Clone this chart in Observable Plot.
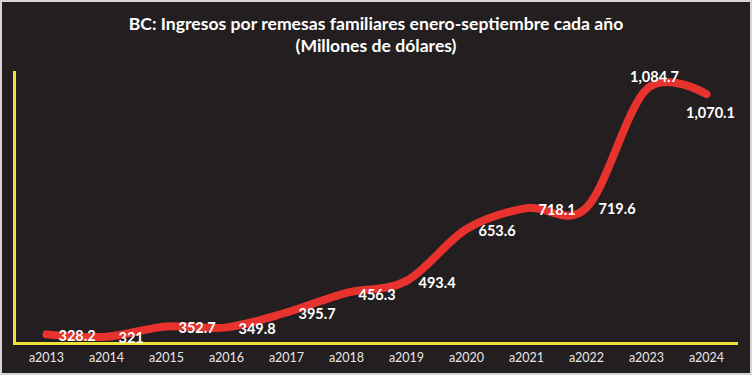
<!DOCTYPE html>
<html>
<head>
<meta charset="utf-8">
<script src="https://cdn.jsdelivr.net/npm/d3@7"></script>
<script src="https://cdn.jsdelivr.net/npm/@observablehq/plot@0.6"></script>
<style>
  html, body { margin: 0; padding: 0; background: #231f20; }
  #wrap { position: relative; width: 752px; height: 375px; background: #231f20; overflow: hidden; }
  #frame { position: absolute; left: 0; top: 0; width: 752px; height: 375px; box-sizing: border-box; border: 2px solid #d4d4d4; pointer-events: none; }
  #title { position: absolute; left: 0; top: 13px; width: 752px; text-align: center; color: #ffffff; font-family: Lato, "Open Sans", sans-serif; font-weight: 700; font-size: 17.6px; line-height: 22px; }
  #chart { position: absolute; left: 0; top: 0; }
</style>
</head>
<body>
<div id="wrap">
  <div id="chart"></div>
  <div id="title">BC: Ingresos por remesas familiares enero-septiembre cada año<br>(Millones de dólares)</div>
  <div id="frame"></div>
</div>
<script>
const years = ["a2013","a2014","a2015","a2016","a2017","a2018","a2019","a2020","a2021","a2022","a2023","a2024"];
const values = [328.2, 321, 352.7, 349.8, 395.7, 456.3, 493.4, 653.6, 718.1, 719.6, 1084.7, 1070.1];
const valueLabels = ["328.2","321","352.7","349.8","395.7","456.3","493.4","653.6","718.1","719.6","1,084.7","1,070.1"];

const data = years.map((y, i) => ({year: y, value: values[i], label: valueLabels[i], i}));
const n = data.length;
const rightLabels = data.filter(d => d.i < n - 2);
const peakLabel = data.filter(d => d.i === n - 2);
const endLabel = data.filter(d => d.i === n - 1);

const red = "#e8322d";
const yellow = "#efe03a";
const font = "Lato, 'Open Sans', sans-serif";

const chart = Plot.plot({
  width: 752,
  height: 375,
  marginTop: 72,
  marginBottom: 32,
  marginLeft: 14,
  marginRight: 14,
  style: { background: "transparent", color: "#ffffff", fontFamily: font },
  x: { type: "band", domain: years, padding: 0, label: null },
  y: { domain: [300, 1137], axis: null },
  marks: [
    Plot.axisX({ tickSize: 0, tickPadding: 10, fontSize: 12.5, fill: "#e6e6e6", label: null }),
    Plot.line(data, {
      x: "year", y: "value", curve: "cardinal",
      stroke: red, strokeWidth: 8, strokeLinecap: "round", strokeLinejoin: "round"
    }),
    Plot.ruleY([300], { stroke: yellow, strokeWidth: 3 }),
    Plot.frame({ anchor: "left", stroke: yellow, strokeWidth: 3 }),
    Plot.text(rightLabels, {
      x: "year", y: "value", text: "label", textAnchor: "start", dx: 12, dy: 2,
      fill: "#ffffff", fontSize: 14.5, fontWeight: 700
    }),
    Plot.text(peakLabel, {
      x: "year", y: "value", text: "label", textAnchor: "middle", dx: 8, dy: -12,
      fill: "#ffffff", fontSize: 14.5, fontWeight: 700
    }),
    Plot.text(endLabel, {
      x: "year", y: "value", text: "label", textAnchor: "middle", dx: 4, dy: 19,
      fill: "#ffffff", fontSize: 14.5, fontWeight: 700
    })
  ]
});
document.getElementById("chart").appendChild(chart);
</script>
</body>
</html>
